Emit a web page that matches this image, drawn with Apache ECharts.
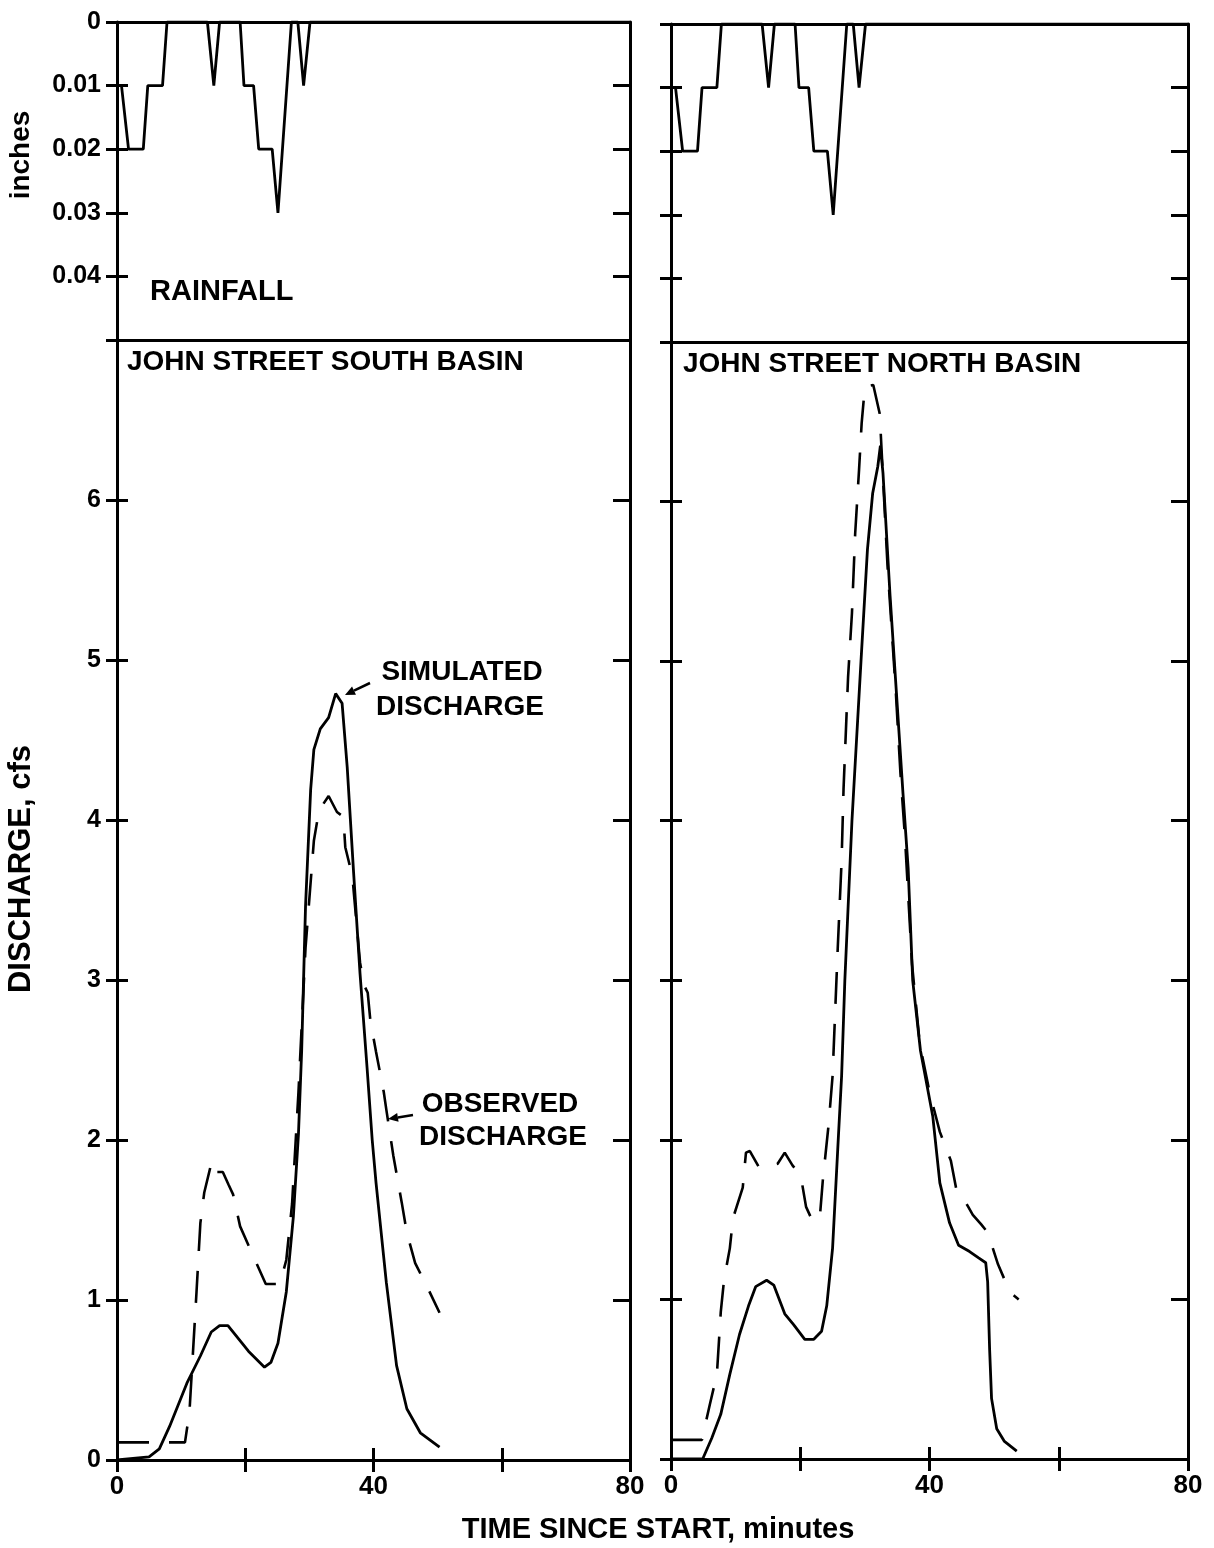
<!DOCTYPE html>
<html>
<head>
<meta charset="utf-8">
<script src="https://cdn.jsdelivr.net/npm/echarts@6/dist/echarts.min.js"></script>
<style>
  html, body { margin: 0; padding: 0; background: #fff; }
  #chart { width: 1214px; height: 1548px; }
</style>
</head>
<body>
<div id="chart"></div>
<script>
// tick labels
const timeLabels = [0, 40, 80]
const rainLabels = [0, 0.01, 0.02, 0.03, 0.04]
const flowLabels = [0, 1, 2, 3, 4, 5, 6]

// rainfall per interval, inches  [minutes, inches]
const rainfall = [
    [0, 0.01], [0.7, 0.01], [1.8, 0.02], [4.1, 0.02], [4.8, 0.01], [7.1, 0.01], [7.8, 0],
    [14.1, 0], [15.1, 0.01], [16.0, 0], [19.2, 0], [19.8, 0.01], [21.3, 0.01], [22.1, 0.02],
    [24.2, 0.02], [25.1, 0.03], [27.2, 0], [28.2, 0], [29.1, 0.01], [30.1, 0], [80, 0],
]

// John Street South basin, cfs
const southSimulated = [
    [0, 0], [5.0, 0.02], [6.6, 0.07], [8.2, 0.21], [10.9, 0.48], [13.0, 0.65], [14.7, 0.8],
    [16.0, 0.84], [17.3, 0.84], [19.5, 0.73], [20.5, 0.68], [23.0, 0.58], [24.0, 0.61],
    [25.1, 0.73], [26.4, 1.05], [27.5, 1.52], [28.3, 2.04], [28.8, 2.56], [29.4, 3.46],
    [30.2, 4.19], [30.7, 4.44], [31.7, 4.57], [33.0, 4.64], [34.1, 4.79], [35.1, 4.73],
    [35.9, 4.33], [36.9, 3.67], [37.9, 3.04], [39.0, 2.45], [39.8, 2.0], [40.4, 1.73],
    [42.0, 1.11], [43.6, 0.59], [45.2, 0.32], [47.3, 0.17], [50.3, 0.08],
]
const southObserved = [
    [0, 0.11], [10.6, 0.11], [11.3, 0.3], [12.4, 1.05], [13.0, 1.48], [13.6, 1.67],
    [14.8, 1.87], [15.6, 1.8], [16.5, 1.8], [17.4, 1.72], [18.1, 1.66], [19.2, 1.46],
    [21.3, 1.27], [23.2, 1.1], [25.4, 1.1], [26.4, 1.25], [27.3, 1.6], [28.3, 2.3],
    [29.4, 3.2], [30.7, 3.87], [31.5, 4.06], [33.0, 4.15], [34.3, 4.05], [35.3, 4.02],
    [35.6, 3.83], [36.7, 3.65], [37.9, 3.11], [38.5, 2.97], [39.1, 2.92], [39.5, 2.75],
    [40.4, 2.55], [41.6, 2.3], [42.0, 2.19], [43.1, 1.9], [44.4, 1.61], [45.2, 1.42],
    [46.5, 1.23], [48.4, 1.08], [50.3, 0.92],
]

// John Street North basin, cfs
const northSimulated = [
    [0, 0], [4.9, 0], [6.3, 0.13], [7.7, 0.28], [9.1, 0.53], [10.6, 0.78], [12.0, 0.96],
    [13.1, 1.08], [14.8, 1.12], [15.9, 1.09], [17.6, 0.91], [19.0, 0.84], [20.7, 0.75],
    [22.1, 0.75], [23.3, 0.8], [24.1, 0.96], [25.0, 1.32], [25.8, 1.94], [26.4, 2.4],
    [26.9, 3.0], [28.0, 4.0], [29.4, 5.0], [30.4, 5.7], [31.2, 6.05], [32.0, 6.22],
    [32.4, 6.35], [32.8, 6.18], [33.9, 5.41], [34.9, 4.79], [35.9, 4.17], [36.7, 3.7],
    [37.4, 3.0], [38.6, 2.56], [40.5, 2.15], [41.6, 1.73], [43.1, 1.48], [44.5, 1.34],
    [46.2, 1.3], [47.6, 1.26], [48.7, 1.23], [49.0, 1.11], [49.3, 0.69], [49.6, 0.38],
    [50.4, 0.19], [51.6, 0.11], [53.5, 0.05],
]
const northObserved = [
    [0, 0.12], [4.8, 0.12], [5.0, 0.16], [6.0, 0.34], [7.1, 0.53], [7.7, 0.92], [8.2, 1.12],
    [9.1, 1.32], [9.6, 1.51], [11.1, 1.7], [11.6, 1.92], [12.2, 1.93], [13.6, 1.83],
    [14.2, 1.82], [16.5, 1.85], [17.6, 1.92], [18.8, 1.84], [19.6, 1.8], [20.1, 1.77],
    [20.9, 1.58], [21.8, 1.5], [23.0, 1.5], [23.5, 1.75], [24.4, 2.1], [25.0, 2.4],
    [25.8, 3.2], [26.4, 3.75], [26.7, 4.2], [27.4, 4.9], [28.0, 5.3], [28.5, 5.8],
    [29.1, 6.2], [29.5, 6.49], [30.0, 6.72], [31.3, 6.73], [32.3, 6.55], [33.5, 5.6],
    [34.8, 4.8], [35.5, 4.3], [36.2, 3.9], [37.3, 3.1], [38.5, 2.6], [40.0, 2.3],
    [41.6, 2.05], [43.3, 1.87], [44.2, 1.68], [45.0, 1.65], [46.0, 1.58], [46.7, 1.53],
    [48.0, 1.47], [49.0, 1.42], [50.6, 1.22], [52.4, 1.05], [53.2, 1.02], [53.8, 1.0],
]

const FONT = '"Liberation Sans", Arial, sans-serif'
const INK = '#000'
const axisLine = { show: true, onZero: false, lineStyle: { color: INK, width: 3 } }

function xAxes(grid, withLabels) {
    // flow grid: crossing ticks made of one outside + one inside axis
    return [
        {
            gridIndex: grid, type: 'value', min: 0, max: 80, interval: 20, position: 'bottom',
            axisLine, splitLine: { show: false },
            axisTick: { show: true, length: 12, lineStyle: { color: INK, width: 3 } },
            axisLabel: {
                show: withLabels, margin: 14, color: INK, fontFamily: FONT, fontSize: 26, fontWeight: 'bold',
                formatter: v => (timeLabels.includes(v) ? String(v) : ''),
            },
        },
        {
            gridIndex: grid, type: 'value', min: 0, max: 80, interval: 20, position: 'bottom',
            axisLine: { show: false }, splitLine: { show: false }, axisLabel: { show: false },
            axisTick: { show: true, inside: true, length: 12, lineStyle: { color: INK, width: 3 } },
        },
    ]
}

function rainXAxes(grid) {
    return ['bottom', 'top'].map(pos => ({
        gridIndex: grid, type: 'value', min: 0, max: 80, position: pos,
        axisLine, axisTick: { show: false }, axisLabel: { show: false }, splitLine: { show: false },
    }))
}

function yAxes(grid, max, interval, inverse, labels, withLabels) {
    const base = { gridIndex: grid, type: 'value', min: 0, max, interval, inverse, splitLine: { show: false } }
    return [
        Object.assign({}, base, {
            position: 'left', axisLine,
            axisTick: { show: true, length: 11, lineStyle: { color: INK, width: 3 } },
            axisLabel: {
                show: withLabels, margin: 16, color: INK, fontFamily: FONT, fontSize: 25, fontWeight: 'bold',
                formatter: v => {
                    const hit = labels.find(l => Math.abs(l - v) < 1e-9)
                    if (hit === undefined) return ''
                    return interval < 1 && hit !== 0 ? hit.toFixed(2) : String(hit)
                },
            },
        }),
        Object.assign({}, base, {
            position: 'left', axisLine: { show: false }, axisLabel: { show: false },
            axisTick: { show: true, inside: true, length: 11, lineStyle: { color: INK, width: 3 } },
        }),
        Object.assign({}, base, {
            position: 'right', axisLine, axisLabel: { show: false },
            axisTick: { show: true, inside: true, length: 17, lineStyle: { color: INK, width: 3 } },
        }),
    ]
}

function line(data, x, y, dashed) {
    return {
        type: 'line', data, xAxisIndex: x, yAxisIndex: y, showSymbol: false, symbol: 'none',
        smooth: false, animation: false, silent: true,
        lineStyle: { color: INK, width: dashed ? 2.6 : 2.8, type: dashed ? [32, 20] : 'solid', cap: 'butt' },
    }
}

function text(x, y, str, size, center, rotated) {
    return {
        type: 'text', x, y, silent: true, rotation: rotated ? Math.PI / 2 : 0,
        style: {
            text: str, fill: INK, font: 'bold ' + size + 'px ' + FONT,
            align: center ? 'center' : 'left', verticalAlign: 'middle',
        },
    }
}

function arrow(x1, y1, x2, y2) {
    const a = Math.atan2(y2 - y1, x2 - x1)
    const len = 10, half = 4.5
    const bx = x2 - len * Math.cos(a), by = y2 - len * Math.sin(a)
    const px = -Math.sin(a) * half, py = Math.cos(a) * half
    return [
        { type: 'line', silent: true, shape: { x1, y1, x2: bx, y2: by }, style: { stroke: INK, lineWidth: 2.5 } },
        {
            type: 'polygon', silent: true,
            shape: { points: [[x2, y2], [bx + px, by + py], [bx - px, by - py]] },
            style: { fill: INK },
        },
    ]
}

const dom = document.getElementById('chart')
const myChart = echarts.init(dom, null, { renderer: 'canvas' })

const options = {
    backgroundColor: '#fff',
    animation: false,
    grid: [
        { left: 117, top: 22, width: 513, height: 318 },
        { left: 117, top: 340, width: 513, height: 1120 },
        { left: 671, top: 24, width: 517, height: 318 },
        { left: 671, top: 342, width: 517, height: 1117 },
    ],
    xAxis: [].concat(rainXAxes(0), xAxes(1, true), rainXAxes(2), xAxes(3, true)),
    yAxis: [].concat(
        yAxes(0, 0.05, 0.01, true, rainLabels, true),
        yAxes(1, 7, 1, false, flowLabels, true),
        yAxes(2, 0.05, 0.01, true, rainLabels, false),
        yAxes(3, 7, 1, false, flowLabels, false)
    ),
    series: [
        line(rainfall, 0, 0, false),
        line(southSimulated, 2, 3, false),
        line(southObserved, 2, 3, true),
        line(rainfall, 4, 6, false),
        line(northSimulated, 6, 9, false),
        line(northObserved, 6, 9, true),
    ],
    graphic: [
        text(21, 155, 'inches', 28, true, true),
        text(21, 869, 'DISCHARGE, cfs', 31, true, true),
        text(150, 292, 'RAINFALL', 29, false),
        text(127, 362, 'JOHN STREET SOUTH BASIN', 28, false),
        text(683, 364, 'JOHN STREET NORTH BASIN', 28, false),
        text(462, 672, 'SIMULATED', 28, true),
        text(460, 707, 'DISCHARGE', 28, true),
        text(500, 1104, 'OBSERVED', 28, true),
        text(503, 1137, 'DISCHARGE', 28, true),
        text(658, 1530, 'TIME SINCE START, minutes', 29, true),
    ].concat(arrow(370, 683, 345, 695), arrow(413, 1115, 388, 1119)),
}

myChart.setOption(options)
</script>
</body>
</html>
